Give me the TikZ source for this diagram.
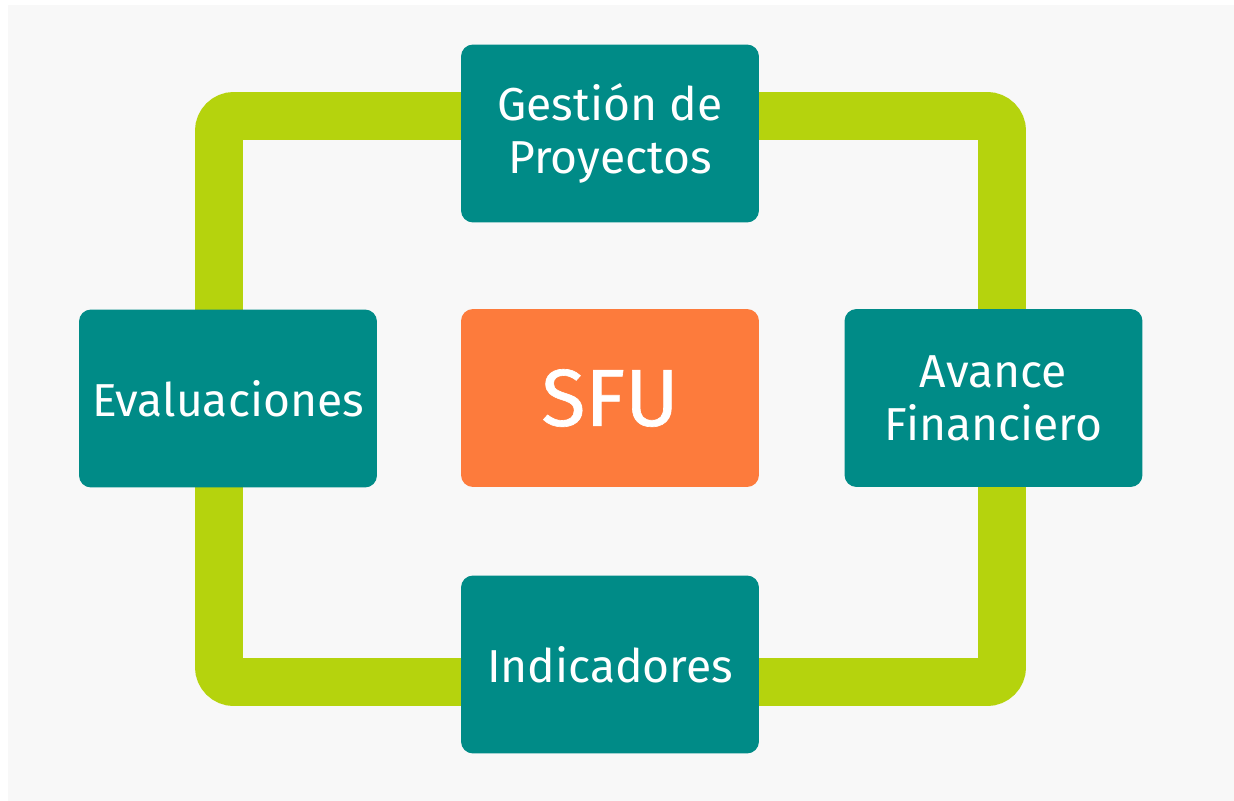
\documentclass[tikz,border=0pt]{standalone}
\usepackage{fontspec}
\setmainfont{Fira Sans}
\newfontfamily\sfufont[FakeBold=0.8]{Fira Sans}
\definecolor{bgc}{HTML}{F8F8F8}
\definecolor{teal}{HTML}{008B87}
\definecolor{lime}{HTML}{B5D30D}
\definecolor{orng}{HTML}{FD7B3C}
\begin{document}
\begin{tikzpicture}[x=0.02cm,y=-0.02cm,
  box/.style={fill=teal, rounded corners=0.24cm, minimum width=5.96cm, minimum height=3.56cm, inner sep=0pt, text=white, align=center, font=\fontsize{26.3pt}{30.2pt}\selectfont},
  core/.style={box, fill=orng, font=\sfufont\fontsize{46pt}{50pt}\selectfont},
  frame/.style={draw=lime, line width=27.3pt, rounded corners=0.3cm}]
\useasboundingbox (0,0) rectangle (1234,801);
\fill[white] (0,0) rectangle (1234,801);
\fill[bgc] (8,5) rectangle (1234,801);
\coordinate (tl) at (219,116);
\coordinate (br) at (1002,682);
\draw[frame] (tl) rectangle (br);
\node[box] (gp) at (610,133.5) {Gestión de\\Proyectos};
\node[box] (ev) at (228,398.5) {Evaluaciones};
\node[core] (sfu) at (610,398) {SFU};
\node[box] (af) at (993.5,398) {Avance\\Financiero};
\node[box] (in) at (610,664.5) {Indicadores};
\end{tikzpicture}
\end{document}
